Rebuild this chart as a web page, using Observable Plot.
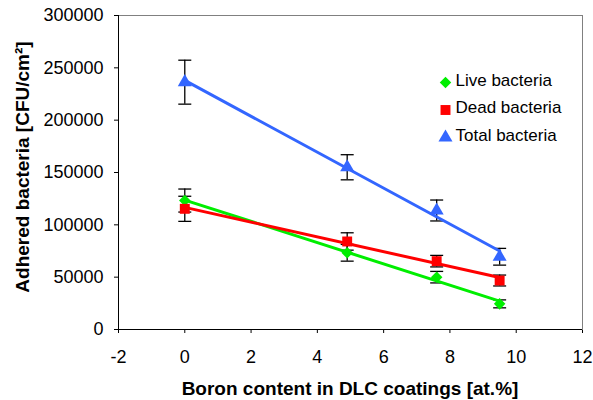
<!DOCTYPE html>
<html>
<head>
<meta charset="utf-8">
<script src="https://cdn.jsdelivr.net/npm/d3@7"></script>
<script src="https://cdn.jsdelivr.net/npm/@observablehq/plot@0.6"></script>
<style>
  html, body { margin: 0; padding: 0; background: #fff; }
  #chart { width: 593px; height: 400px; }
</style>
</head>
<body>
<div id="chart"></div>
<script>
const boron = [0, 4.9, 7.6, 9.5];
const liveValues = [123200, 73300, 50000, 24500];
const liveErrors = [11000, 8000, 5500, 3800];
const deadValues = [115300, 84100, 65300, 46800];
const deadErrors = [12000, 8300, 5500, 5200];
const totalValues = [236300, 155000, 113700, 69500];
const totalErrors = [21000, 12000, 10000, 8000];
const seriesNames = ["Live bacteria", "Dead bacteria", "Total bacteria"];
const xTicks = [-2, 0, 2, 4, 6, 8, 10, 12];
const yTicks = [0, 50000, 100000, 150000, 200000, 250000, 300000];

const colors = {"Live bacteria": "#00ee00", "Dead bacteria": "#ff0000", "Total bacteria": "#3366ff"};
const symbols = {"Live bacteria": "diamond2", "Dead bacteria": "square", "Total bacteria": "triangle"};
const radii = {"Live bacteria": 5.2, "Dead bacteria": 5.6, "Total bacteria": 5.2};

const valueSets = [liveValues, deadValues, totalValues];
const errorSets = [liveErrors, deadErrors, totalErrors];
const rows = [];
seriesNames.forEach((s, i) => boron.forEach((x, j) => rows.push({series: s, x, y: valueSets[i][j], e: errorSets[i][j]})));

const cap = {draw(context, size) { const w = 6.5; context.moveTo(-w, 0); context.lineTo(w, 0); }};

const marks = [
  Plot.frame({stroke: "#808080"}),
  Plot.ruleX([-2], {stroke: "#000"}),
  Plot.ruleY([0], {stroke: "#000"}),
  Plot.ruleX(rows, {x: "x", y1: d => d.y - d.e, y2: d => d.y + d.e, stroke: "#000", strokeWidth: 1.3}),
  Plot.dot(rows, {x: "x", y: d => d.y + d.e, symbol: cap, stroke: "#000", strokeWidth: 1.3}),
  Plot.dot(rows, {x: "x", y: d => d.y - d.e, symbol: cap, stroke: "#000", strokeWidth: 1.3}),
];
seriesNames.forEach((s, i) => {
  const sub = rows.filter(d => d.series === s);
  marks.push(Plot.linearRegressionY(sub, {x: "x", y: "y", stroke: colors[s], strokeWidth: 3, ci: 0}));
});
seriesNames.forEach((s) => {
  const sub = rows.filter(d => d.series === s);
  marks.push(Plot.dot(sub, {x: "x", y: "y", symbol: symbols[s], fill: colors[s], r: radii[s], stroke: "none"}));
});
// legend
seriesNames.forEach((s, i) => {
  marks.push(Plot.dot([s], {frameAnchor: "top-left", dx: 327, dy: 67 + i * 27.5, symbol: symbols[s], fill: colors[s], r: radii[s], stroke: "none"}));
  marks.push(Plot.text([s], {frameAnchor: "top-left", dx: 337, dy: 65 + i * 27.5, text: d => d, textAnchor: "start", lineAnchor: "middle", fontSize: 17, fill: "#000"}));
});

const chart = Plot.plot({
  width: 593,
  height: 400,
  marginLeft: 118,
  marginRight: 11,
  marginTop: 15,
  marginBottom: 71,
  style: {fontFamily: "'Liberation Sans', Arial, sans-serif", fontSize: "18px", color: "#000", background: "#fff"},
  x: {domain: [-2, 12], ticks: xTicks, tickSize: 4, tickPadding: 17, tickFormat: d => String(d), label: null},
  y: {domain: [0, 300000], ticks: yTicks, tickSize: 4, tickPadding: 11, tickFormat: d => String(d), label: null},
  marks
});

const wrap = document.getElementById("chart");
wrap.style.position = "relative";
wrap.appendChild(chart);

// Axis titles as SVG text in the same svg
const svg = d3.select(chart);
svg.append("text")
  .attr("x", 350).attr("y", 395)
  .attr("text-anchor", "middle")
  .attr("font-weight", "bold")
  .attr("font-size", 19)
  .attr("font-family", "'Liberation Sans', Arial, sans-serif")
  .attr("fill", "#000")
  .text("Boron content in DLC coatings [at.%]");
svg.append("text")
  .attr("transform", "translate(29,167) rotate(-90)")
  .attr("text-anchor", "middle")
  .attr("font-weight", "bold")
  .attr("font-size", 19)
  .attr("font-family", "'Liberation Sans', Arial, sans-serif")
  .attr("fill", "#000")
  .text("Adhered bacteria [CFU/cm²]");
</script>
</body>
</html>
